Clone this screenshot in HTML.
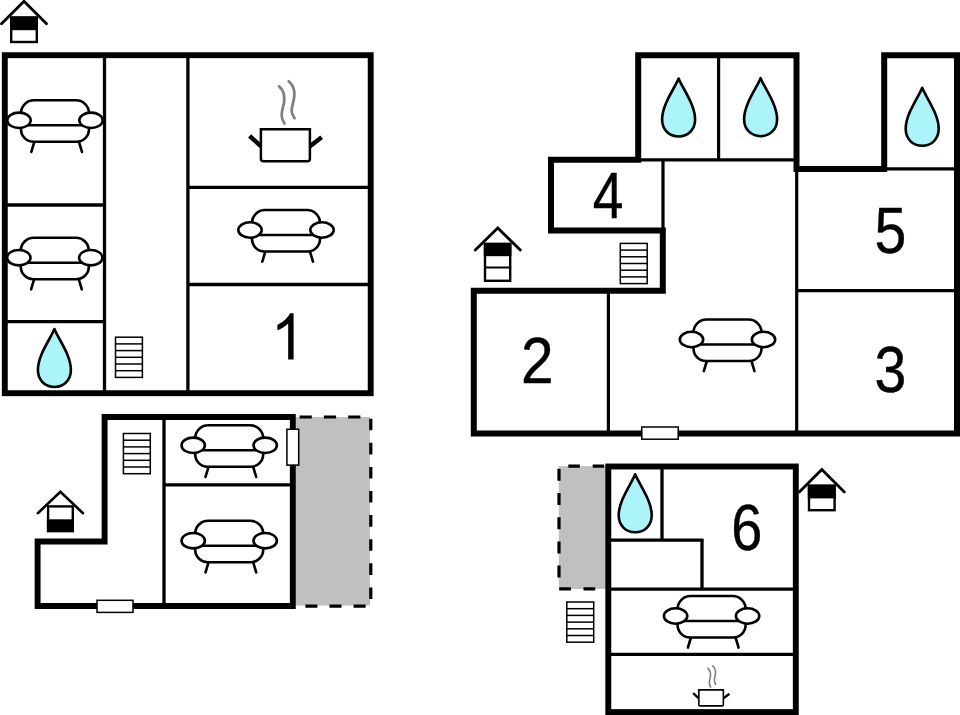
<!DOCTYPE html>
<html><head><meta charset="utf-8">
<style>
html,body{margin:0;padding:0;background:#fff;}
body{width:960px;height:715px;overflow:hidden;}
svg{display:block;}
text{font-family:"Liberation Sans",sans-serif;fill:#000;}
</style></head><body>
<svg width="960" height="715" viewBox="0 0 960 715">
<defs>
  <!-- sofa centred at 0,0 -->
  <g id="sofa" fill="#fff" stroke="#000" stroke-width="2.6" stroke-linecap="round" stroke-linejoin="round">
    <line x1="-20.5" y1="20" x2="-23.7" y2="30.6"/>
    <line x1="23.8" y1="20" x2="27" y2="30.6"/>
    <path d="M-34,-8 A13,13 0 0 1 -21,-21 L21,-21 A13,13 0 0 1 34,-8 L34,8 A12.5,12.5 0 0 1 21.5,20.5 L-21.5,20.5 A12.5,12.5 0 0 1 -34,8 Z"/>
    <line x1="-26" y1="4" x2="26" y2="4"/>
    <ellipse cx="-36" cy="-1" rx="11.7" ry="7.7"/>
    <ellipse cx="36" cy="-1" rx="11.7" ry="7.7"/>
  </g>
  <!-- drop centred -->
  <g id="drop">
    <path d="M0,-29 C4,-19 16.5,-3 16.5,12 C16.5,22 9.5,29 0,29 C-9.5,29 -16.5,22 -16.5,12 C-16.5,-3 -4,-19 0,-29 Z" fill="#aaf4fa" stroke="#000" stroke-width="2.6" stroke-linejoin="round"/>
  </g>
  <!-- stairs 26.6 x 39.8, six steps -->
  <g id="stairs" fill="#fff" stroke="#000" stroke-width="1.5">
    <rect x="0" y="0" width="26.9" height="40.2"/>
    <line x1="0" y1="6.7" x2="26.9" y2="6.7"/>
    <line x1="0" y1="13.4" x2="26.9" y2="13.4"/>
    <line x1="0" y1="20.1" x2="26.9" y2="20.1"/>
    <line x1="0" y1="26.8" x2="26.9" y2="26.8"/>
    <line x1="0" y1="33.5" x2="26.9" y2="33.5"/>
  </g>
  <!-- big pot centred on body -->
  <g id="pot" fill="none" stroke="#000">
    <path d="M-6.4,-59 C0.6,-53 -0.4,-45 -2.4,-38 C-4.4,-31 -4.4,-27 -0.9,-21.6" stroke="#808080" stroke-width="2.7" stroke-linecap="round"/>
    <path d="M3.3,-64 C10.6,-58 9.6,-49 7.6,-42 C5.6,-35 5.6,-32 9.2,-27" stroke="#808080" stroke-width="2.7" stroke-linecap="round"/>
    <line x1="-24" y1="1.5" x2="-35.8" y2="-9.3" stroke-width="4.5"/>
    <line x1="24" y1="1.5" x2="36.2" y2="-8" stroke-width="4.5"/>
    <path d="M-24.5,-16 L24.5,-16 L24.5,13.5 Q24.5,16 22,16 L-22,16 Q-24.5,16 -24.5,13.5 Z" fill="#fff" stroke-width="2.5" stroke-linejoin="miter"/>
  </g>
  <!-- small pot -->
  <g id="pots" fill="none" stroke="#000">
    <path d="M-3.2,-29.5 C0.3,-26.5 -0.2,-22.5 -1.2,-19 C-2.2,-15.5 -2.2,-13.5 -0.45,-10.8" stroke="#7c7c7c" stroke-width="1.6" stroke-linecap="round"/>
    <path d="M1.65,-32 C5.3,-29 4.8,-24.5 3.8,-21 C2.8,-17.5 2.8,-16 4.6,-13.5" stroke="#7c7c7c" stroke-width="1.6" stroke-linecap="round"/>
    <line x1="-12" y1="0.7" x2="-18" y2="-4.7" stroke-width="2.4"/>
    <line x1="12" y1="0.7" x2="18.3" y2="-4.2" stroke-width="2.4"/>
    <path d="M-12.25,-8 L12.25,-8 L12.25,6.8 Q12.25,8 11,8 L-11,8 Q-12.25,8 -12.25,6.8 Z" fill="#fff" stroke-width="1.6"/>
  </g>
  <!-- house icon, apex at 0,0 ; black on top -->
  <g id="houseT" fill="none" stroke="#000" stroke-linecap="round" stroke-linejoin="miter">
    <rect x="-12.8" y="16.8" width="25.6" height="24.4" fill="#fff" stroke-width="2.4"/>
    <rect x="-12.8" y="16.8" width="25.6" height="11.4" fill="#000" stroke-width="2.4"/>
    <polyline points="-22.5,23 0,0.5 22.5,23" stroke-width="2.8"/>
  </g>
  <!-- house icon, black on bottom -->
  <g id="houseB" fill="none" stroke="#000" stroke-linecap="round" stroke-linejoin="miter">
    <rect x="-12.3" y="16.1" width="24.7" height="24.6" fill="#fff" stroke-width="2.4"/>
    <rect x="-12.3" y="30.2" width="24.7" height="10.5" fill="#000" stroke-width="2.4"/>
    <polyline points="-22.6,22.9 0,1.5 22.6,22.9" stroke-width="2.6"/>
  </g>
</defs>

<!-- ========== PLAN 1 ========== -->
<g fill="none" stroke="#000">
  <rect x="4.8" y="55.2" width="365.9" height="338" stroke-width="5.9"/>
  <g stroke-width="3.3">
    <line x1="104.5" y1="55" x2="104.5" y2="393"/>
    <line x1="187.9" y1="55" x2="187.9" y2="393"/>
    <line x1="5" y1="205" x2="104.5" y2="205"/>
    <line x1="5" y1="321.6" x2="104.5" y2="321.6"/>
    <line x1="188" y1="187.4" x2="370" y2="187.4"/>
    <line x1="188" y1="284.5" x2="370" y2="284.5"/>
  </g>
</g>
<use href="#sofa" x="55" y="121.3"/>
<use href="#sofa" x="54.8" y="258.7"/>
<use href="#sofa" x="286" y="231"/>
<use href="#pot" x="285.4" y="145.2"/>
<use href="#drop" x="54.4" y="358"/>
<use href="#stairs" x="115.5" y="337.2"/>
<path id="one" transform="translate(270.7 359.6) scale(0.0300 -0.03145)" d="M763 0 L583 0 L583 1147 Q518 1085 412.5 1023 Q307 961 223 930 L223 1104 Q374 1175 487 1276 Q600 1377 647 1472 L763 1472 Z" fill="#000"/>
<use href="#houseT" x="24" y="0.8"/>

<!-- ========== PLAN 2 ========== -->
<rect x="295" y="417" width="75" height="188.6" fill="#c0c0c0"/>
<g stroke="#000" stroke-width="3.2" fill="none">
  <line x1="299.6" y1="417" x2="371" y2="417" stroke-dasharray="12.2,12.1"/>
  <line x1="370.8" y1="418.7" x2="370.8" y2="604" stroke-dasharray="11.6,12.5"/>
  <line x1="305.4" y1="606.2" x2="368" y2="606.2" stroke-dasharray="12,12.1"/>
</g>
<g fill="none" stroke="#000">
  <polygon points="104.6,417 292.8,417 292.8,606 37.6,606 37.6,541.5 104.6,541.5" stroke-width="5.9"/>
  <g stroke-width="3.3">
    <line x1="164" y1="417" x2="164" y2="605"/>
    <line x1="164" y1="484.8" x2="293" y2="484.8"/>
  </g>
</g>
<use href="#stairs" x="123.4" y="433.5"/>
<use href="#sofa" x="229.2" y="446.3"/>
<use href="#sofa" x="229.2" y="541.7"/>
<rect x="286.9" y="429.3" width="11.8" height="35.8" fill="#fff" stroke="#000" stroke-width="1.5"/>
<rect x="97" y="600.3" width="36" height="12.1" fill="#fff" stroke="#000" stroke-width="1.5"/>
<use href="#houseB" x="60.4" y="490.3"/>

<!-- ========== PLAN 3 ========== -->
<g fill="none" stroke="#000">
  <polygon points="957,55.3 884.2,55.3 884.2,168.9 796.5,168.9 796.5,55.3 638.2,55.3 638.2,159.8 551,159.8 551,230.6 662.8,230.6 662.8,290.8 473.8,290.8 473.8,433.4 957,433.4" stroke-width="6" stroke-linejoin="miter"/>
  <g stroke-width="3.2">
    <line x1="718.6" y1="55" x2="718.6" y2="160"/>
    <line x1="638" y1="159.8" x2="798" y2="159.8"/>
    <line x1="663" y1="160" x2="663" y2="230"/>
    <line x1="796.7" y1="168" x2="796.7" y2="433"/>
    <line x1="884" y1="168.8" x2="957" y2="168.8"/>
    <line x1="796.7" y1="290.7" x2="957" y2="290.7"/>
    <line x1="608.4" y1="290" x2="608.4" y2="433"/>
  </g>
</g>
<use href="#drop" x="678.6" y="107.5"/>
<use href="#drop" x="760.6" y="107.2"/>
<use href="#drop" x="922.2" y="116.8"/>
<g font-size="65" text-anchor="middle" stroke="#000" stroke-width="0.4" stroke-linejoin="round">
<text transform="translate(608 217.8) scale(0.85 1)">4</text>
<text transform="translate(890.3 253) scale(0.88 1)">5</text>
<text transform="translate(890.3 391.6) scale(0.88 1)">3</text>
<text transform="translate(537.2 383) scale(0.9 1)">2</text>
<text transform="translate(746.7 549.8) scale(0.86 1)">6</text>
</g>
<use href="#sofa" x="727.5" y="340.5"/>
<use href="#stairs" x="620.3" y="243.4"/>
<rect x="641.8" y="427" width="36.4" height="12.2" fill="#fff" stroke="#000" stroke-width="1.5"/>
<g fill="none" stroke="#000" stroke-linecap="round" stroke-linejoin="miter">
  <rect x="485" y="244" width="25.2" height="36.8" fill="#fff" stroke-width="2.4"/>
  <rect x="485" y="244" width="25.2" height="11" fill="#000" stroke-width="2.4"/>
  <line x1="485" y1="267.5" x2="510.2" y2="267.5" stroke-width="2.2"/>
  <polyline points="475.3,250 497.8,228 520.3,250" stroke-width="2.8"/>
</g>

<!-- ========== PLAN 4 ========== -->
<rect x="558.8" y="466.2" width="48" height="122.7" fill="#c0c0c0"/>
<g stroke="#000" stroke-width="3.2" fill="none">
  <line x1="559" y1="468.8" x2="559" y2="580" stroke-dasharray="12,12.2"/>
  <line x1="568.3" y1="466.2" x2="606" y2="466.2" stroke-dasharray="11.5,12.9"/>
  <line x1="559.2" y1="588.9" x2="606" y2="588.9" stroke-dasharray="11.8,12.5"/>
</g>
<g fill="none" stroke="#000">
  <rect x="608.3" y="466.5" width="187.5" height="245.6" stroke-width="5.9"/>
  <g stroke-width="3.3">
    <line x1="662" y1="467" x2="662" y2="540.2"/>
    <line x1="608" y1="540.2" x2="703.6" y2="540.2"/>
    <line x1="702" y1="540.2" x2="702" y2="588.7"/>
    <line x1="608" y1="589.1" x2="796" y2="589.1"/>
    <line x1="608" y1="654.4" x2="796" y2="654.4"/>
  </g>
</g>
<use href="#drop" x="635.2" y="503.3"/>
<use href="#sofa" x="711.6" y="617"/>
<use href="#pots" x="711.1" y="697.9"/>
<use href="#stairs" x="566.8" y="602"/>
<use href="#houseT" x="821.8" y="469"/>
</svg>
</body></html>
